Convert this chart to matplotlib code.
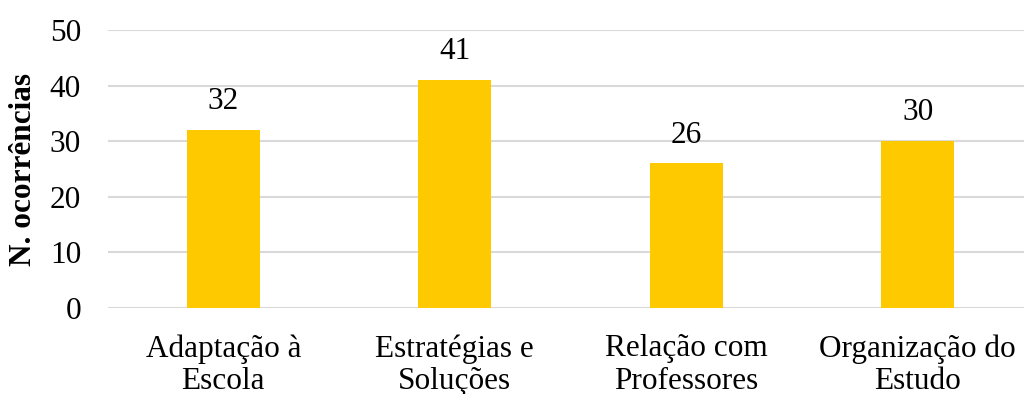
import matplotlib
matplotlib.use("Agg")
import matplotlib.pyplot as plt

categories = ["Adaptação à\nEscola", "Estratégias e\nSoluções", "Relação com\nProfessores", "Organização do\nEstudo"]
occurrences = [32, 41, 26, 30]
y_ticks = [0, 10, 20, 30, 40, 50]

plt.rcParams["font.family"] = ["Liberation Serif", "DejaVu Serif"]
FS = 22.5

fig = plt.figure(figsize=(10.24, 3.94), dpi=100)
# axes span slightly past the right edge of the canvas
ax = fig.add_axes([107.5 / 1024, 1 - 308 / 394, 926 / 1024, 278 / 394])

x = range(len(categories))
bars = ax.bar(x, occurrences, width=73 / 231.5, color="#FFC900", zorder=3)

ax.set_xlim(-0.5, len(categories) - 0.5)
ax.set_ylim(0, 50)
ax.set_yticks(y_ticks)
ax.set_xticks(list(x))
ax.set_xticklabels(categories, fontsize=FS, linespacing=1.15)
ax.tick_params(axis="y", labelsize=FS, length=0, pad=19)
ax.tick_params(axis="x", length=0, pad=19)

ax.grid(axis="y", color="#D9D9D9", linewidth=1.5, zorder=0)
ax.set_axisbelow(True)
for s in ax.spines.values():
    s.set_visible(False)

for b, v in zip(bars, occurrences):
    ax.annotate(str(v), (b.get_x() + b.get_width() / 2, v), xytext=(0, 10),
                textcoords="offset points", ha="center", va="bottom", fontsize=FS)

ax.set_ylabel("N. ocorrências", fontsize=FS, fontweight="bold")
ax.yaxis.set_label_coords(-(107.5 - 38) / 926, 0.5)

fig.savefig("out.png", dpi=100)
